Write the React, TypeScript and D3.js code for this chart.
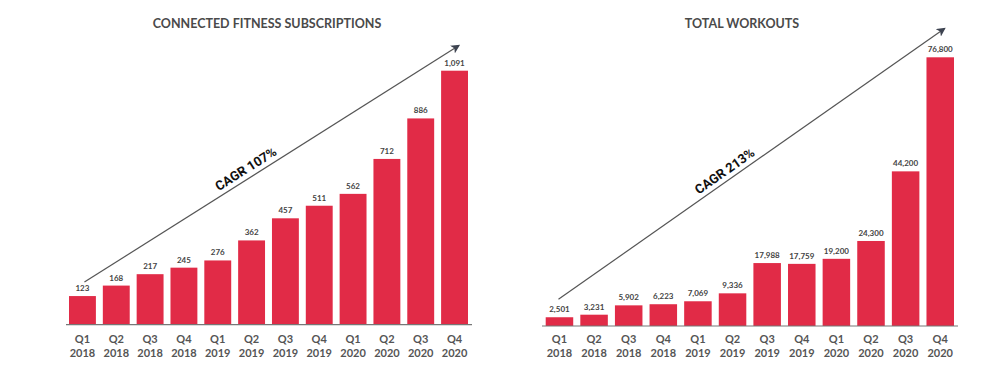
import * as d3 from 'd3';
import { useEffect } from 'react';

const quarters = ['Q1', 'Q2', 'Q3', 'Q4', 'Q1', 'Q2', 'Q3', 'Q4', 'Q1', 'Q2', 'Q3', 'Q4'];
const years = ['2018', '2018', '2018', '2018', '2019', '2019', '2019', '2019', '2020', '2020', '2020', '2020'];
const subscriptions = [123, 168, 217, 245, 276, 362, 457, 511, 562, 712, 886, 1091];
const workouts = [2501, 3231, 5902, 6223, 7069, 9336, 17988, 17759, 19200, 24300, 44200, 76800];
const subscriptionLabels = ['123', '168', '217', '245', '276', '362', '457', '511', '562', '712', '886', '1,091'];
const workoutLabels = ['2,501', '3,231', '5,902', '6,223', '7,069', '9,336', '17,988', '17,759', '19,200', '24,300', '44,200', '76,800'];

const BAR_COLOR = '#e12b47';
const TEXT_COLOR = '#4a4a4a';
const W = 1000;
const H = 366;

const charts = [
    {
        id: 'subs',
        title: 'CONNECTED FITNESS SUBSCRIPTIONS',
        cagr: 'CAGR 107%',
        values: subscriptions,
        labels: subscriptionLabels,
        titleX: 267,
        x: [69, 468],
        axisX: [66, 472],
        y: [324.7, 70.7],
        arrowStart: { dx: 2, dy: -14 },
        arrowEnd: { dx: 4, dy: -25 },
    },
    {
        id: 'workouts',
        title: 'TOTAL WORKOUTS',
        cagr: 'CAGR 213%',
        values: workouts,
        labels: workoutLabels,
        titleX: 742,
        x: [545.7, 954],
        axisX: [542, 958],
        y: [326, 57.3],
        arrowStart: { dx: -1, dy: -18 },
        arrowEnd: { dx: 4, dy: -28.6 },
    },
];

const BarPanel = ({ chart }) => {
    const idx = d3.range(chart.values.length);
    const xScale = d3.scaleBand().domain(idx.map(String)).range(chart.x).paddingInner(0.205).paddingOuter(0);
    const yScale = d3.scaleLinear().domain([0, d3.max(chart.values)]).range(chart.y);
    const bw = xScale.bandwidth();
    const base = yScale(0);
    const n = chart.values.length;

    // arrow runs from above the first bar to above the last one
    const x1 = xScale('0') + bw / 2 + chart.arrowStart.dx;
    const y1 = yScale(chart.values[0]) + chart.arrowStart.dy;
    const x2 = xScale(String(n - 1)) + bw / 2 + chart.arrowEnd.dx;
    const y2 = yScale(chart.values[n - 1]) + chart.arrowEnd.dy;
    const angle = (Math.atan2(y2 - y1, x2 - x1) * 180) / Math.PI;
    const t = 0.445;
    const lx = x1 + (x2 - x1) * t;
    const ly = y1 + (y2 - y1) * t;

    return (
        <g>
            <text x={chart.titleX} y={28} textAnchor="middle" fontFamily="Lato" fontWeight={700}
                fontSize={12.5} fill={TEXT_COLOR}>{chart.title}</text>

            {chart.values.map((v, i) => (
                <g key={i}>
                    <rect x={xScale(String(i))} y={yScale(v)} width={bw} height={base - yScale(v)} fill={BAR_COLOR} />
                    <text x={xScale(String(i)) + bw / 2} y={yScale(v) - 5} textAnchor="middle"
                        fontFamily="Lato" fontWeight={700} fontSize={8} fill="#444">{chart.labels[i]}</text>
                    <text x={xScale(String(i)) + bw / 2} y={343} textAnchor="middle"
                        fontFamily="Lato" fontWeight={700} fontSize={11} fill="#555">{quarters[i]}</text>
                    <text x={xScale(String(i)) + bw / 2} y={357} textAnchor="middle"
                        fontFamily="Lato" fontWeight={700} fontSize={11} fill="#555">{years[i]}</text>
                </g>
            ))}

            <line x1={chart.axisX[0]} x2={chart.axisX[1]} y1={base} y2={base} stroke="#777" strokeWidth={1.2} />

            <line x1={x1} y1={y1} x2={x2} y2={y2} stroke="#555" strokeWidth={1.2}
                markerEnd={`url(#arrow-${chart.id})`} />
            <defs>
                <marker id={`arrow-${chart.id}`} viewBox="0 0 10 10" refX={8} refY={5}
                    markerWidth={9} markerHeight={9} markerUnits="userSpaceOnUse" orient="auto">
                    <path d="M0,0 L10,5 L0,10 L2.5,5 Z" fill="#3d4350" />
                </marker>
            </defs>
            <text transform={`translate(${lx},${ly}) rotate(${angle})`} y={-5} textAnchor="middle"
                fontFamily="Roboto" fontWeight={700} fontSize={13} fill="#111">{chart.cagr}</text>
        </g>
    );
};

export default function App() {
    useEffect(() => {
        document.body.style.margin = '0';
    }, []);

    return (
        <svg width={W} height={H} style={{ display: 'block', background: '#fff' }}>
            {charts.map((c) => (
                <BarPanel key={c.id} chart={c} />
            ))}
        </svg>
    );
}
